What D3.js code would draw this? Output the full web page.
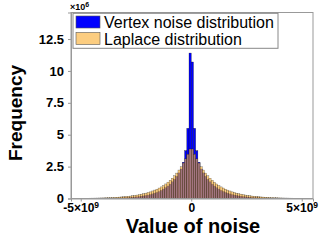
<!DOCTYPE html>
<html><head><meta charset="utf-8">
<script src="https://cdn.jsdelivr.net/npm/d3@7"></script>
<style>body{margin:0;background:#fff}svg{display:block}</style>
</head><body><svg id="c" width="327" height="242"></svg>
<script>
const binStart = -5e9, binWidth = 1e8;
const seriesNames = ["Vertex noise distribution", "Laplace distribution"];
// frequency (x10^6) per bin, bins of width 1e8 from -5e9 to 5e9
const vertexNoise = [0.004,0.004,0.005,0.006,0.007,0.008,0.009,0.010,0.012,0.014,0.016,0.018,0.021,0.024,0.028,0.032,0.037,0.042,0.049,0.056,0.065,0.075,0.087,0.10,0.115,0.13,0.15,0.18,0.20,0.24,0.27,0.31,0.36,0.42,0.48,0.55,0.64,0.74,0.85,0.98,1.13,1.31,1.51,1.74,2.01,2.31,2.84,3.75,5.5,11.4,
  10.7,5.5,3.75,2.84,2.31,2.01,1.74,1.51,1.31,1.13,0.98,0.85,0.74,0.64,0.55,0.48,0.42,0.36,0.31,0.27,0.24,0.20,0.18,0.15,0.13,0.115,0.10,0.087,0.075,0.065,0.056,0.049,0.042,0.037,0.032,0.028,0.024,0.021,0.018,0.016,0.014,0.012,0.010,0.009,0.008,0.007,0.006,0.005,0.004,0.004];
const laplace = [0.017,0.019,0.021,0.023,0.026,0.029,0.033,0.036,0.041,0.046,0.051,0.057,0.064,0.071,0.079,0.089,0.099,0.11,0.124,0.14,0.155,0.17,0.19,0.22,0.24,0.27,0.30,0.34,0.38,0.42,0.47,0.52,0.59,0.66,0.73,0.82,0.91,1.02,1.14,1.28,1.43,1.59,1.78,1.99,2.23,2.49,2.78,3.11,3.47,3.88,
  3.88,3.47,3.11,2.78,2.49,2.23,1.99,1.78,1.59,1.43,1.28,1.14,1.02,0.91,0.82,0.73,0.66,0.59,0.52,0.47,0.42,0.38,0.34,0.30,0.27,0.24,0.22,0.19,0.17,0.155,0.14,0.124,0.11,0.099,0.089,0.079,0.071,0.064,0.057,0.051,0.046,0.041,0.036,0.033,0.029,0.026,0.023,0.021,0.019,0.017];
const xTickValues = [-5e9, 0, 5e9];
const xTickBase = ["-5×10", "0", "5×10"];
const xTickExp = ["9", "", "9"];
const yTickValues = [0, 2.5, 5, 7.5, 10, 12.5];
const yTickLabels = ["0", "2.5", "5", "7.5", "10", "12.5"];

const svg = d3.select("#c");
const m = {l: 71, r: 313, t: 12.5, b: 198.5};
const x = d3.scaleLinear().domain([-5.44e9, 5.51e9]).range([m.l, m.r]);
const y = d3.scaleLinear().domain([0, 14.58]).range([m.b, m.t]);
const blue = "#0000ff", orange = "rgb(250,178,60)", orangeAlpha = 0.65;

svg.append("defs").append("clipPath").attr("id", "clip")
  .append("rect").attr("x", m.l).attr("y", m.t).attr("width", m.r - m.l).attr("height", m.b - m.t);

const toBins = vals => vals.map((v, i) => ({x0: binStart + i * binWidth, x1: binStart + (i + 1) * binWidth, v}));
const plot = svg.append("g").attr("clip-path", "url(#clip)");

plot.append("g").selectAll("rect").data(toBins(vertexNoise)).join("rect")
  .attr("x", d => x(d.x0)).attr("width", d => x(d.x1) - x(d.x0))
  .attr("y", d => y(d.v)).attr("height", d => y(0) - y(d.v))
  .attr("fill", blue).attr("stroke", "#000").attr("stroke-width", 0.4).attr("stroke-opacity", 0.7);

plot.append("g").selectAll("rect").data(toBins(laplace)).join("rect")
  .attr("x", d => x(d.x0)).attr("width", d => x(d.x1) - x(d.x0))
  .attr("y", d => y(d.v)).attr("height", d => y(0) - y(d.v))
  .attr("fill", orange).attr("fill-opacity", orangeAlpha)
  .attr("stroke", "#000").attr("stroke-width", 0.4).attr("stroke-opacity", 0.55);

// box
svg.append("rect").attr("x", m.l).attr("y", m.t).attr("width", m.r - m.l).attr("height", m.b - m.t)
  .attr("fill", "none").attr("stroke", "#999").attr("stroke-width", 1);

const font = "Liberation Sans, Arial, sans-serif";
const yAxis = svg.append("g").attr("transform", `translate(${m.l},0)`)
  .call(d3.axisLeft(y).tickValues(yTickValues).tickSize(3).tickPadding(4).tickFormat((d, i) => yTickLabels[i]));
yAxis.select(".domain").attr("stroke", "#999");
yAxis.selectAll(".tick line").attr("stroke", "#999");
yAxis.selectAll("text").attr("font-family", font).attr("font-weight", "bold").attr("font-size", 13).attr("fill", "#000");

const xAxis = svg.append("g").attr("transform", `translate(0,${m.b})`)
  .call(d3.axisBottom(x).tickValues(xTickValues).tickSize(3).tickPadding(2).tickFormat(""));
xAxis.select(".domain").attr("stroke", "#999");
xAxis.selectAll(".tick line").attr("stroke", "#999");
xAxis.selectAll(".tick text").each(function(d, i) {
  const t = d3.select(this).attr("font-family", font).attr("font-weight", "bold").attr("font-size", 12).attr("fill", "#000");
  t.append("tspan").text(xTickBase[i]);
  if (xTickExp[i]) t.append("tspan").attr("dy", "-0.45em").attr("font-size", 8.5).text(xTickExp[i]);
});

// multiplier
const mult = svg.append("text").attr("x", 70).attr("y", 9.5).attr("font-family", font).attr("font-weight", "bold").attr("font-size", 9).attr("fill", "#000");
mult.append("tspan").text("×10");
mult.append("tspan").attr("dy", -3).attr("font-size", 7).text("6");

// axis labels
svg.append("text").attr("x", 193).attr("y", 233).attr("text-anchor", "middle")
  .attr("font-family", font).attr("font-weight", "bold").attr("font-size", 20).attr("fill", "#000").text("Value of noise");
svg.append("text").attr("transform", `translate(22,${113}) rotate(-90)`).attr("text-anchor", "middle")
  .attr("font-family", font).attr("font-weight", "bold").attr("font-size", 19).attr("fill", "#000").text("Frequency");

// legend
const lg = svg.append("g");
lg.append("rect").attr("x", 73).attr("y", 13.3).attr("width", 205).attr("height", 35)
  .attr("fill", "#fff").attr("stroke", "#888").attr("stroke-width", 1);
const swatch = [{c: blue, a: 1}, {c: orange, a: orangeAlpha}];
seriesNames.forEach((name, i) => {
  lg.append("rect").attr("x", 76).attr("y", 16 + i * 16.5).attr("width", 24).attr("height", 12)
    .attr("fill", swatch[i].c).attr("fill-opacity", swatch[i].a).attr("stroke", "#555").attr("stroke-width", 0.6);
  lg.append("text").attr("x", 104).attr("y", 28 + i * 16.5).attr("font-family", font).attr("font-size", 16)
    .attr("fill", "#000").text(name);
});
</script></body></html>
